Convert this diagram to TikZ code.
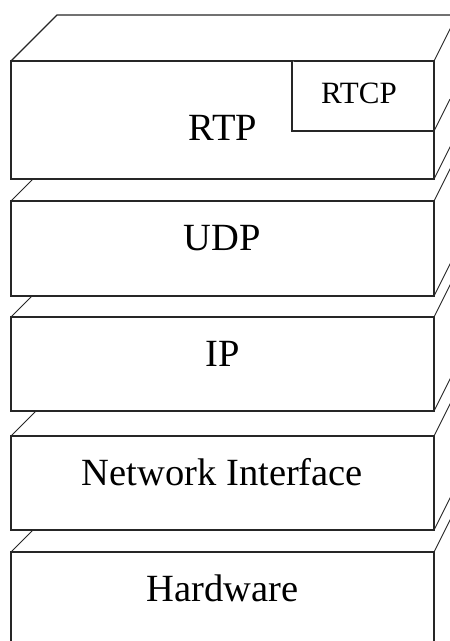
\documentclass[tikz,border=0pt]{standalone}
\usepackage{fontspec}
\setmainfont{Liberation Serif}
\usetikzlibrary{positioning}

\begin{document}
\begin{tikzpicture}[
    x=1pt, y=-1pt,
    face/.style={draw=black!85, fill=white, line width=0.9pt, line join=round},
    edge/.style={draw=black!85, line width=0.9pt},
    front/.style={draw=black!85, fill=white, line width=1.2pt, rectangle,
                  minimum width=423pt, inner sep=0pt, outer sep=0pt},
    lbl/.style={inner sep=0pt, font=\fontsize{38.5}{44}\selectfont},
    smalllbl/.style={inner sep=0pt, font=\fontsize{31}{36}\selectfont}
]
\clip (0,0) rectangle (450,641);

% Hardware
\fill[white] (11,552) -- (57,506) -- (457,506) -- (434,552) -- cycle;
\draw[edge] (11,552) -- (57,506);
\filldraw[face] (434,552) -- (457,506) -- (457,634) -- (434,680) -- cycle;
\node[front, minimum height=128pt] (hw) at (222.5,616) {};
\node[lbl] (hwtxt) at (222.5,588) {Hardware};

% Network Interface
\fill[white] (11,436) -- (57,390) -- (457,390) -- (434,436) -- cycle;
\draw[edge] (11,436) -- (57,390);
\filldraw[face] (434,436) -- (457,390) -- (457,484) -- (434,530) -- cycle;
\node[front, minimum height=94pt] (ni) at (222.5,483) {};
\node[lbl] (nitxt) at (222.5,472) {Network Interface};

% IP
\fill[white] (11,317) -- (57,271) -- (457,271) -- (434,317) -- cycle;
\draw[edge] (11,317) -- (57,271);
\filldraw[face] (434,317) -- (457,271) -- (457,365) -- (434,411) -- cycle;
\node[front, minimum height=94pt] (ip) at (222.5,364) {};
\node[lbl] (iptxt) at (222.5,354) {IP};

% UDP
\fill[white] (11,201) -- (57,155) -- (457,155) -- (434,201) -- cycle;
\draw[edge] (11,201) -- (57,155);
\filldraw[face] (434,201) -- (457,155) -- (457,250) -- (434,296) -- cycle;
\node[front, minimum height=95pt] (udp) at (222.5,248.5) {};
\node[lbl] (udptxt) at (222.5,238) {UDP};

% RTP mit RTCP
\fill[white] (11,61) -- (57,15) -- (457,15) -- (434,61) -- cycle;
\draw[edge, line width=1.1pt] (11,61) -- (57,15) -- (457,15);
\filldraw[face] (434,61) -- (457,15) -- (457,133) -- (434,179) -- cycle;
\node[front, minimum height=118pt] (rtp) at (222.5,120) {};
\node[lbl] (rtptxt) at (223,127.5) {RTP};
\draw[front] (rtp.north east) ++(-142,0) |- ++(142,70) coordinate (rtcpc);
\draw[edge] (rtcpc) -- ++(16,-32);
\node[smalllbl] (rtcptxt) at (359,93.5) {RTCP};

\end{tikzpicture}
\end{document}
